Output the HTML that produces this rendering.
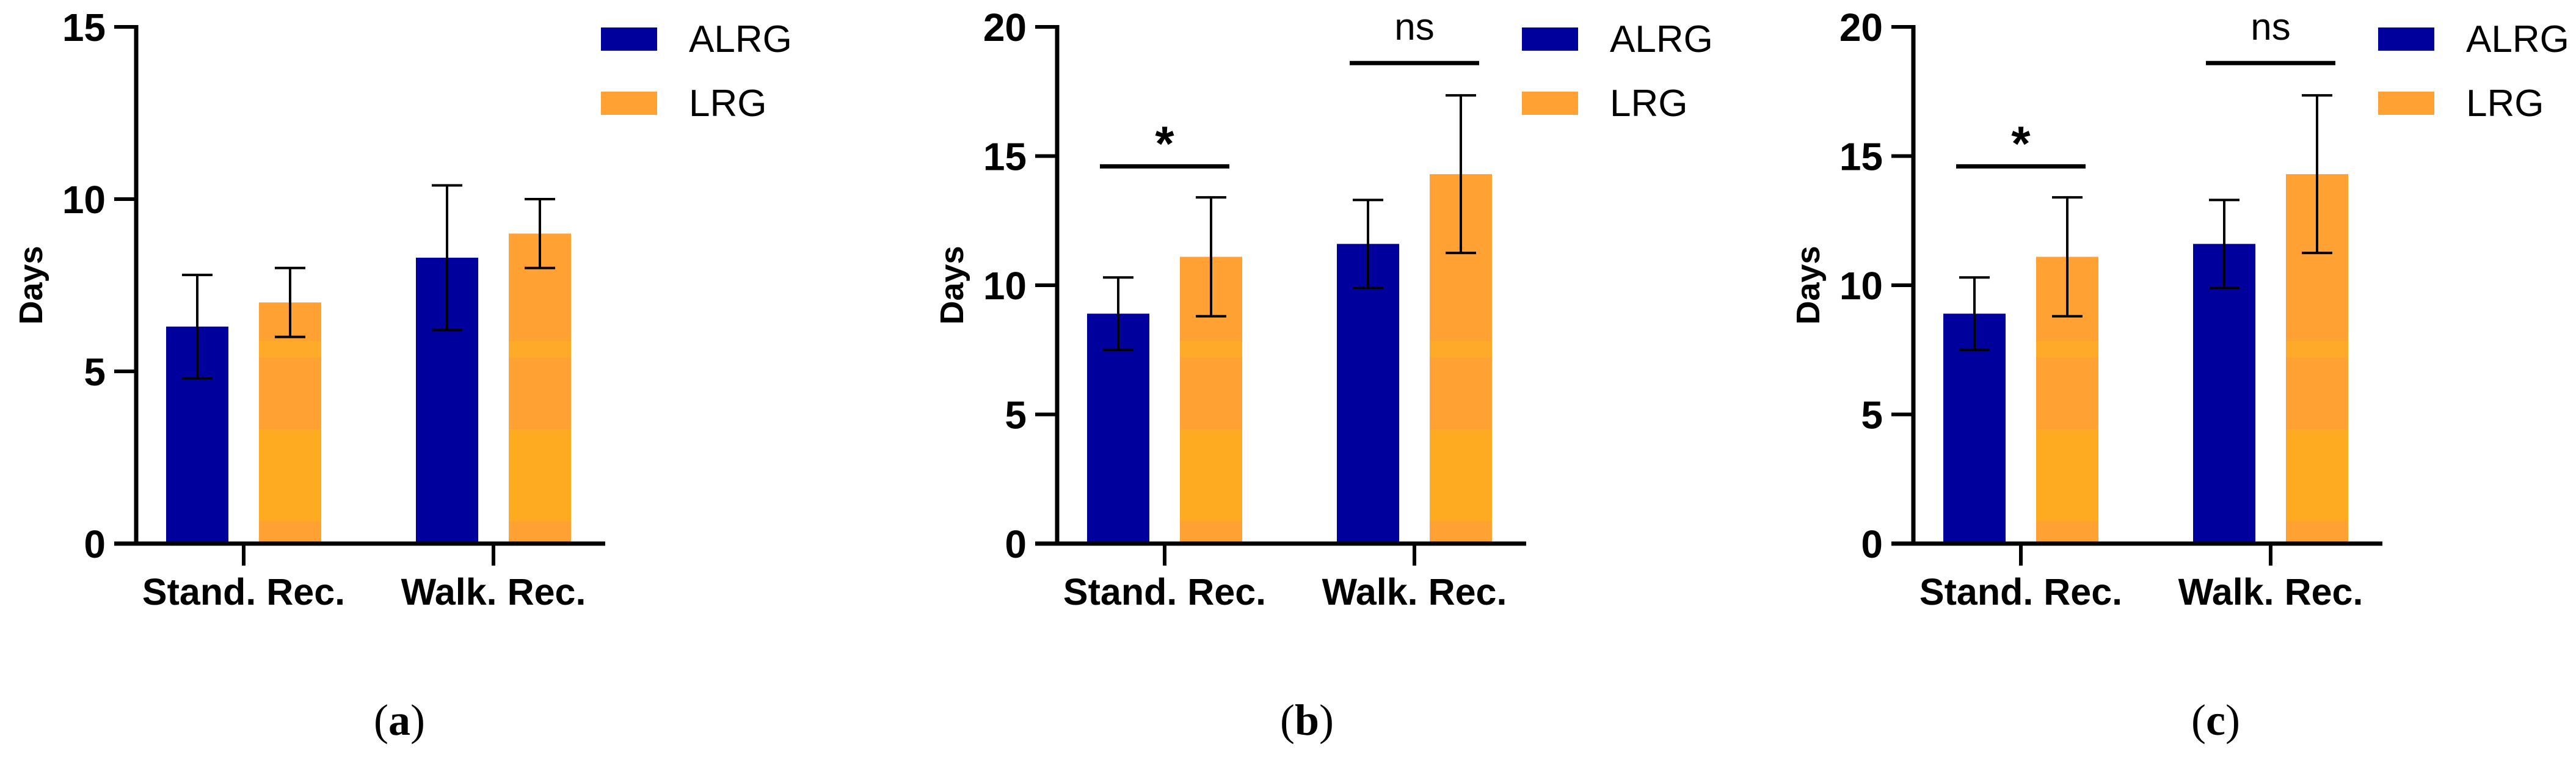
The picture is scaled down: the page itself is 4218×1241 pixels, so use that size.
<!DOCTYPE html>
<html><head><meta charset="utf-8">
<style>
html,body{margin:0;padding:0;background:#fff;}
svg{display:block;}
text{font-family:"Liberation Sans",sans-serif;}
text.serif{font-family:"Liberation Serif",serif;}
</style></head>
<body>
<svg id="fig" width="4218" height="1241" viewBox="0 0 4218 1241" xmlns="http://www.w3.org/2000/svg">
<defs>
<linearGradient id="og" gradientUnits="userSpaceOnUse" x1="0" y1="0" x2="0" y2="1241">
<stop offset="0" stop-color="#FFA133"/>
<stop offset="0.449" stop-color="#FFA133"/>
<stop offset="0.45" stop-color="#FFAA28"/>
<stop offset="0.471" stop-color="#FFAA28"/>
<stop offset="0.472" stop-color="#FFA133"/>
<stop offset="0.566" stop-color="#FFA133"/>
<stop offset="0.567" stop-color="#FFAB22"/>
<stop offset="0.687" stop-color="#FFAB22"/>
<stop offset="0.688" stop-color="#FFA133"/>
<stop offset="1" stop-color="#FFA133"/>
</linearGradient>
</defs>
</svg>
<script>
const categories = ["Stand. Rec.", "Walk. Rec."];
const seriesNames = ["ALRG", "LRG"];
const aMeans = [[6.3, 8.3], [7.0, 9.0]];
const aErrs = [[1.5, 2.1], [1.0, 1.0]];
const bMeans = [[8.9, 11.6], [11.1, 14.3]];
const bErrs = [[1.4, 1.7], [2.3, 3.05]];
const cMeans = [[8.9, 11.6], [11.1, 14.3]];
const cErrs = [[1.4, 1.7], [2.3, 3.05]];
const aTicks = [0, 5, 10, 15];
const bTicks = [0, 5, 10, 15, 20];
const cTicks = [0, 5, 10, 15, 20];
const sigLabels = ["*", "ns"];
const sigHeights = [14.6, 18.6];

const NS = "http://www.w3.org/2000/svg";
const svg = document.getElementById('fig');
function mk(tag, attrs, parent, txt) {
  const e = document.createElementNS(NS, tag);
  for (const k in attrs) e.setAttribute(k, attrs[k]);
  if (txt !== undefined) e.textContent = txt;
  (parent || svg).appendChild(e);
  return e;
}
const colors = ["#00009C", "url(#og)"];
const legendColors = ["#00009C", "#FFA133"];

function panel(id, ox, means, errs, ticks, yMax, sig, label, labelX) {
  const g = mk('g', {});
  
  
  const axX = ox, y0 = 890, yTop = 44;
  const ys = v => y0 - (v / yMax) * (y0 - yTop);
  const groupCenters = [ox + 176, ox + 585];
  const bw = 102, off = 76;
  const xs = (ci, si) => groupCenters[ci] + (si === 0 ? -off : off);
  for (let si = 0; si < 2; si++) for (let ci = 0; ci < 2; ci++) {
    const v = means[si][ci], cx = xs(ci, si);
    const r = mk('rect', {x: cx - bw/2, y: ys(v), width: bw, height: y0 - ys(v), fill: colors[si]}, g);
    
    
    const e = errs[si][ci];
    const eg = mk('g', {stroke: '#000', 'stroke-width': 4}, g);
    
    
    mk('line', {x1: cx, x2: cx, y1: ys(v + e), y2: ys(v - e)}, eg);
    mk('line', {x1: cx - 25, x2: cx + 25, y1: ys(v + e), y2: ys(v + e)}, eg);
    mk('line', {x1: cx - 25, x2: cx + 25, y1: ys(v - e), y2: ys(v - e)}, eg);
  }
  const ya = mk('line', {x1: axX, x2: axX, y1: yTop - 3, y2: y0 + 3, stroke: '#000', 'stroke-width': 7}, g);
  
  
  const xa = mk('line', {x1: axX - 36, x2: ox + 768, y1: y0, y2: y0, stroke: '#000', 'stroke-width': 7}, g);
  
  
  ticks.forEach(t => {
    mk('line', {x1: axX - 36, x2: axX, y1: ys(t), y2: ys(t), stroke: '#000', 'stroke-width': 6}, g);
    const tl = mk('text', {x: axX - 50, y: ys(t) + 23, 'text-anchor': 'end', 'font-size': 64, 'font-weight': 'bold'}, g, String(t));
    
    
  });
  categories.forEach((c, ci) => {
    const cx = groupCenters[ci];
    mk('line', {x1: cx, x2: cx, y1: y0, y2: 926, stroke: '#000', 'stroke-width': 6}, g);
    const xl = mk('text', {x: cx, y: 990, 'text-anchor': 'middle', 'font-size': 61, 'font-weight': 'bold'}, g, c);
    
    
  });
  const yt = mk('text', {x: 0, y: 0, 'text-anchor': 'middle', 'font-size': 54, 'font-weight': 'bold', transform: `translate(${axX - 154},${467}) rotate(-90)`}, g, 'Days');
  
  
  if (sig) {
    sigLabels.forEach((s, ci) => {
      const yy = ys(sigHeights[ci]);
      const x1 = xs(ci, 0), x2 = xs(ci, 1);
      mk('line', {x1: x1 - 30, x2: x2 + 30, y1: yy, y2: yy, stroke: '#000', 'stroke-width': 7}, g);
      const st = mk('text', {x: (x1 + x2) / 2, y: s === '*' ? yy - 10 : yy - 38, 'text-anchor': 'middle', 'font-size': s === '*' ? 80 : 62, 'font-weight': s === '*' ? 'bold' : 'normal'}, g, s);
      
      
    });
  }
  const lx = ox + 761;
  seriesNames.forEach((n, si) => {
    const yy = 45 + si * 105;
    const sw = mk('rect', {x: lx, y: yy, width: 92, height: 38, fill: legendColors[si]}, g);
    
    
    const lt = mk('text', {x: lx + 144, y: yy + 40, 'font-size': 62}, g, n);
    
    
  });
  const pl = mk('text', {x: labelX, y: 1203, 'text-anchor': 'middle', 'font-size': 72, 'class': 'serif'}, g);
  
  
  mk('tspan', {}, pl, '(');
  mk('tspan', {'font-weight': 'bold'}, pl, label);
  mk('tspan', {}, pl, ')');
}
panel('a', 223, aMeans, aErrs, aTicks, 15, false, 'a', 654);
panel('b', 1731, bMeans, bErrs, bTicks, 20, true, 'b', 2140);
panel('c', 3133, cMeans, cErrs, cTicks, 20, true, 'c', 3628);
</script>
</body></html>
